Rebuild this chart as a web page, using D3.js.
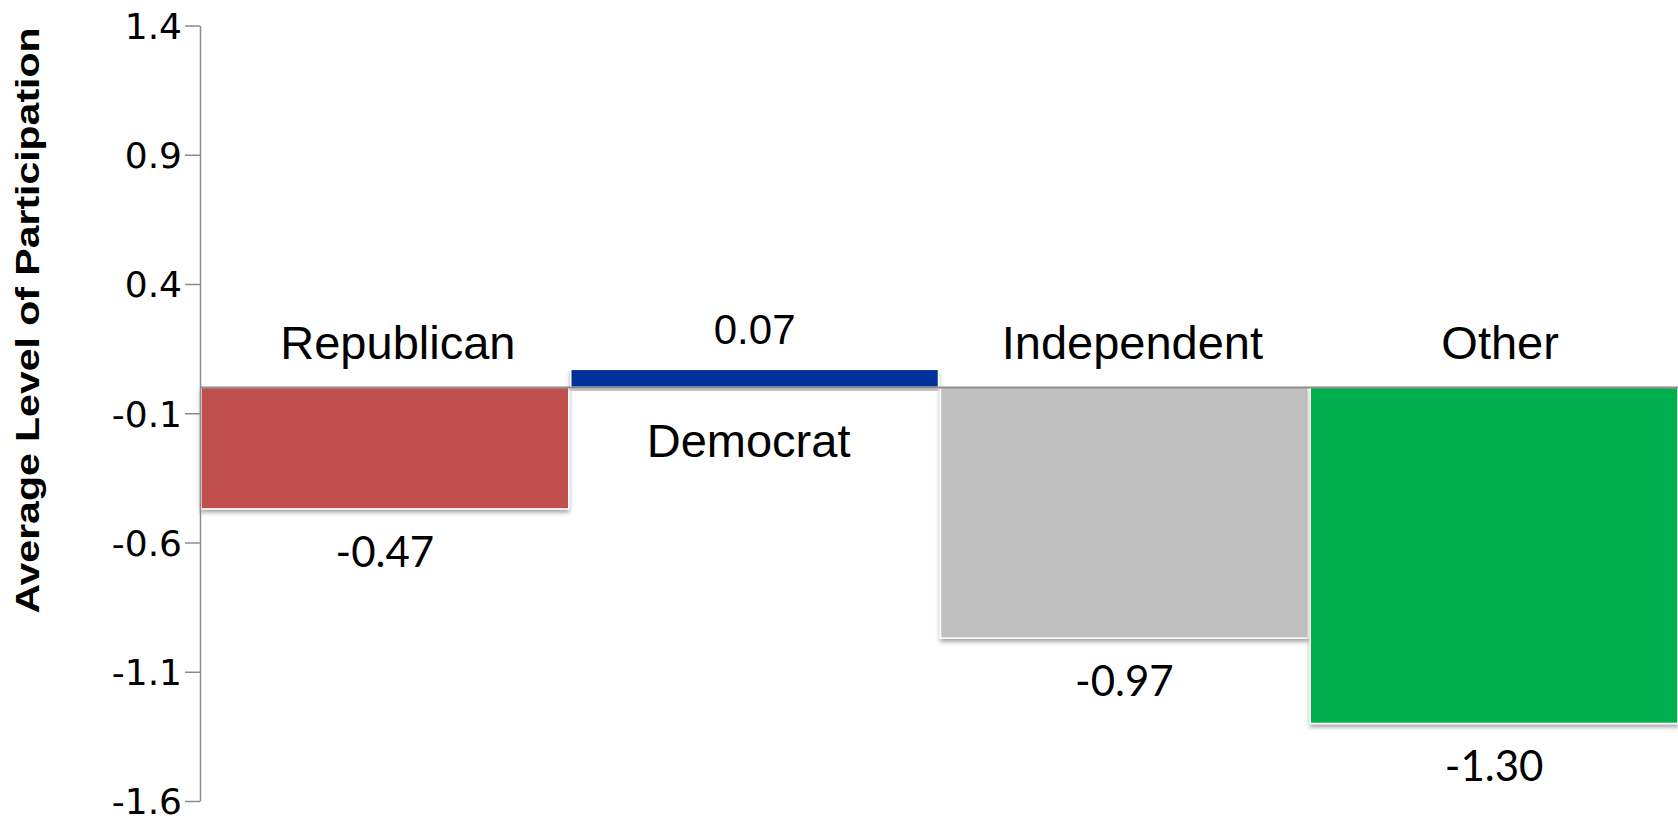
<!DOCTYPE html>
<html>
<head>
<meta charset="utf-8">
<script src="https://cdn.jsdelivr.net/npm/d3@7"></script>
<style>
  html, body { margin: 0; padding: 0; background: #fff; }
  svg { display: block; }
</style>
</head>
<body>
<svg id="chart" width="1678" height="820"></svg>
<script>
const categories = ["Republican", "Democrat", "Independent", "Other"];
const values = [-0.47, 0.07, -0.97, -1.30];
const colors = ["#c0504d", "#003399", "#bfbfbf", "#00b050"];
const tickValues = [1.4, 0.9, 0.4, -0.1, -0.6, -1.1, -1.6];
const yTitle = "Average Level of Participation";

const W = 1678, H = 820;
// small manual horizontal nudges of the category text boxes, as in the original
const catLabelNudge = [13, -6, 8, 6];

const svg = d3.select("#chart");

const defs = svg.append("defs");
const f = defs.append("filter").attr("id", "shadow")
  .attr("x", "-5%").attr("y", "-5%").attr("width", "110%").attr("height", "120%");
f.append("feDropShadow").attr("dx", 0).attr("dy", 3).attr("stdDeviation", 2)
  .attr("flood-color", "#000").attr("flood-opacity", 0.35);

const x = d3.scaleBand().domain(categories).range([200, 1679]).padding(0);
const y = d3.scaleLinear().domain([-1.6, 1.4]).range([801, 25.5]);

const data = categories.map((c, i) => ({ cat: c, v: values[i], color: colors[i], i }));

// bars
svg.append("g").selectAll("rect").data(data).join("rect")
  .attr("x", d => x(d.cat) + 1)
  .attr("width", x.bandwidth() - 2)
  .attr("y", d => y(Math.max(0, d.v)))
  .attr("height", d => Math.abs(y(d.v) - y(0)))
  .attr("fill", d => d.color)
  .attr("stroke", "#ffffff")
  .attr("stroke-width", 1.5)
  .attr("filter", "url(#shadow)");

// zero line
svg.append("line")
  .attr("x1", 200).attr("x2", W)
  .attr("y1", y(0)).attr("y2", y(0))
  .attr("stroke", "#8c8c8c").attr("stroke-width", 2);

// y axis
const axis = d3.axisLeft(y).tickValues(tickValues)
  .tickFormat(d => d.toFixed(1)).tickSize(15).tickSizeOuter(0).tickPadding(3);
const gA = svg.append("g").attr("transform", "translate(200,0)").call(axis);
gA.select(".domain").attr("stroke", "#8c8c8c").attr("stroke-width", 1.5);
gA.selectAll(".tick line").attr("stroke", "#8c8c8c").attr("stroke-width", 1.5);
gA.selectAll(".tick text")
  .attr("font-family", "'DejaVu Sans', sans-serif")
  .attr("font-size", 36).attr("fill", "#000").attr("dy", "0.36em");

// category labels
svg.append("g").selectAll("text").data(data).join("text")
  .attr("x", d => x(d.cat) + x.bandwidth() / 2 + catLabelNudge[d.i])
  .attr("y", d => d.v < 0 ? y(0) - 28 : y(0) + 70)
  .attr("text-anchor", "middle")
  .attr("font-family", "'Liberation Sans', Arial, sans-serif")
  .attr("font-size", 47).attr("fill", "#000")
  .text(d => d.cat);

// value labels
svg.append("g").selectAll("text").data(data).join("text")
  .attr("x", d => x(d.cat) + x.bandwidth() / 2)
  .attr("y", d => d.v < 0 ? y(d.v) + 58 : y(d.v) - 25)
  .attr("text-anchor", "middle")
  .attr("font-family", d => d.v < 0 ? "Lato, 'Liberation Sans', sans-serif" : "'Liberation Sans', Arial, sans-serif")
  .attr("font-size", 42).attr("fill", "#000")
  .text(d => d.v.toFixed(2));

// y title
svg.append("text")
  .attr("transform", `translate(39,${(27 + 614) / 2}) rotate(-90)`)
  .attr("text-anchor", "middle")
  .attr("font-family", "'Liberation Sans', Arial, sans-serif")
  .attr("font-weight", "bold")
  .attr("font-size", 34)
  .attr("textLength", 586)
  .attr("lengthAdjust", "spacingAndGlyphs")
  .attr("fill", "#000")
  .text(yTitle);
</script>
</body>
</html>
